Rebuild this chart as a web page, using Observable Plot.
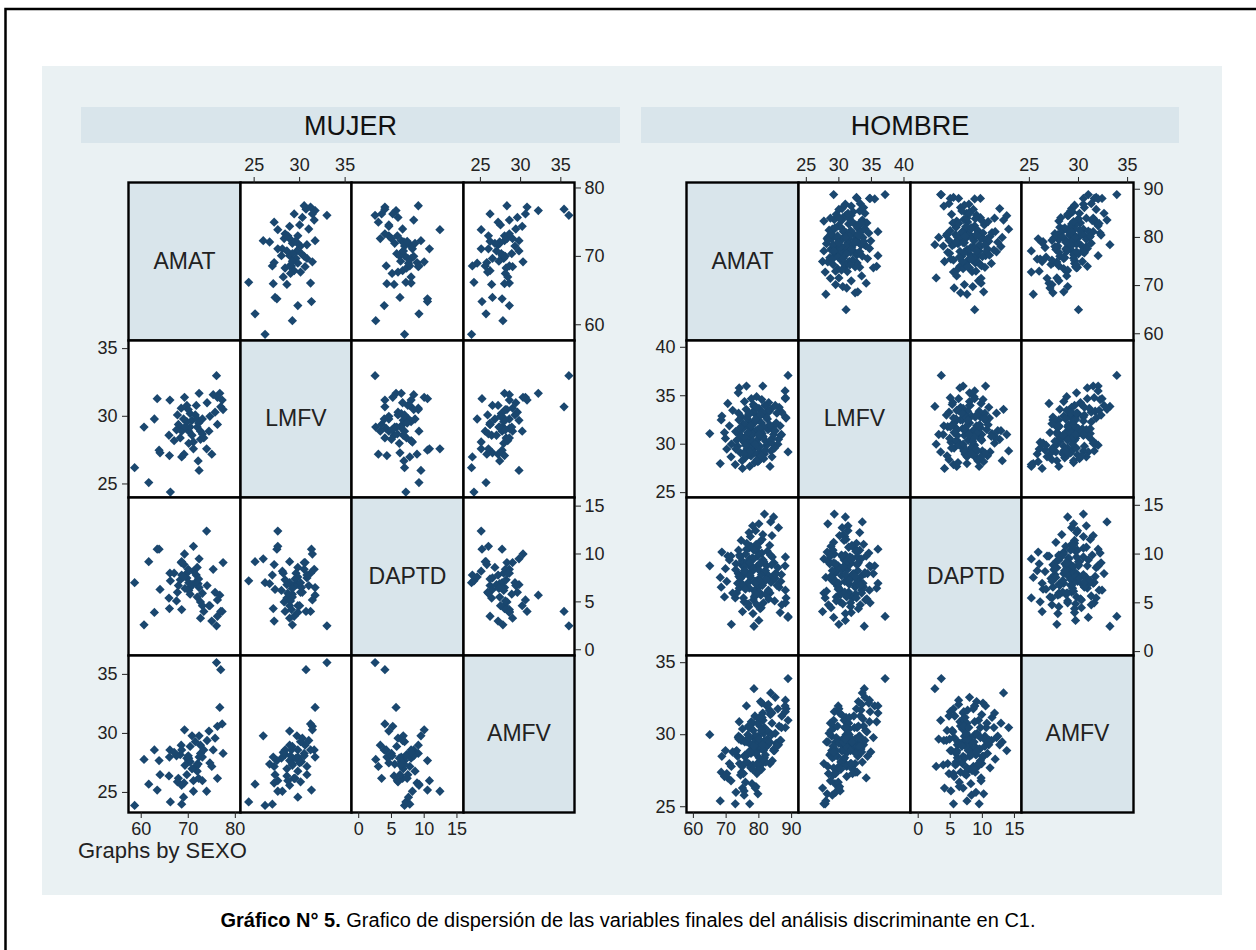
<!DOCTYPE html>
<html>
<head>
<meta charset="utf-8">
<script src="https://cdn.jsdelivr.net/npm/d3@7"></script>
<script src="https://cdn.jsdelivr.net/npm/@observablehq/plot@0.6"></script>
<style>
  html, body { margin: 0; padding: 0; background: #ffffff; }
  #page { position: relative; width: 1256px; height: 950px; overflow: hidden; background: #ffffff; font-family: "Liberation Sans", Arial, sans-serif; }
  #page svg { position: absolute; }
</style>
</head>
<body>
<div id="page"></div>
<script>
// ---------------- DATA ----------------
const variables = ["AMAT", "LMFV", "DAPTD", "AMFV"];
const groupTitles = ["MUJER", "HOMBRE"];

// observations: [AMAT, LMFV, DAPTD, AMFV]
const mujerObs = [
  [76.0,33.0,2.5,36.0],[76.7,31.7,5.7,32.2],[77.2,31.2,4.0,30.8],[75.3,31.6,8.4,28.6],
  [72.3,31.7,6.5,28.0],[69.2,31.4,10.0,30.3],[66.1,31.2,8.0,28.6],[63.4,31.3,10.5,25.2],
  [62.8,29.8,3.9,28.6],[60.6,29.2,2.6,27.8],[58.6,26.2,7.0,23.9],[61.6,25.1,9.2,25.7],
  [66.2,24.4,7.2,24.2],[68.5,30.6,9.1,29.0],[69.7,30.8,7.5,26.5],[71.7,30.8,7.8,27.2],
  [70.8,29.7,6.8,29.8],[69.7,29.6,8.0,27.9],[67.9,29.4,6.7,26.2],[68.6,29.1,4.2,28.6],
  [70.1,28.9,7.0,27.7],[71.9,29.2,5.5,27.4],[73.0,29.8,4.6,28.0],[72.6,28.9,3.3,29.0],
  [74.4,28.9,4.6,30.2],[76.2,29.4,3.5,26.2],[75.7,30.3,6.0,29.6],[76.9,30.7,4.0,35.4],
  [77.4,30.5,9.1,28.3],[65.9,28.6,5.4,26.4],[68.3,28.4,7.3,28.2],[70.1,28.0,6.2,27.9],
  [71.1,28.1,8.2,25.1],[72.6,28.3,5.0,28.3],[73.9,27.6,12.4,25.1],[63.8,27.5,10.5,27.7],
  [64.0,27.3,6.3,26.5],[66.0,27.1,4.3,28.0],[68.6,27.0,7.8,24.0],[69.1,27.2,8.9,25.8],
  [72.1,26.7,6.9,27.4],[72.3,26.0,9.5,29.8],[67.7,30.1,6.0,25.9],[69.0,29.8,7.6,24.6],
  [70.4,30.2,6.5,27.6],[71.5,30.1,7.0,29.3],[71.9,29.8,8.6,26.8],[70.4,29.2,5.8,28.9],
  [68.6,28.9,9.2,25.6],[70.8,28.6,6.8,27.0],[67.5,29.0,5.1,28.1],[69.3,29.2,6.4,27.3],
  [72.2,29.5,7.4,26.2],[73.3,28.4,4.0,28.6],[76.2,31.4,5.2,30.6],[71.1,27.6,10.8,26.0],
  [74.6,30.0,4.6,27.5],[70.0,30.5,8.4,28.1],[73.0,28.7,5.9,26.0],[67.0,28.2,8.0,28.4],
  [74.0,31.0,6.7,29.4],[75.0,27.2,3.0,27.2]
];

const hombreObs = [
  [65.0,31.1,8.8,30.0],[88.9,37.1,3.6,33.9],[78.5,33.9,2.6,33.2],[83.6,33.6,13.3,32.9],
  [88.1,34.7,6.3,32.4],[81.7,29.3,14.1,30.5],[78.1,31.4,12.9,30.8],[80.0,28.3,13.1,29.5],
  [71.6,30.0,2.8,27.8],[88.9,29.2,3.5,31.0],[88.1,32.8,9.7,30.5],[88.1,34.8,5.0,31.6],
  [81.2,36.0,7.0,31.5],[74.0,35.8,6.5,30.9],[73.7,35.3,8.0,29.8],[72.8,27.9,5.5,25.2],
  [77.2,27.7,9.5,25.2],[83.4,27.7,6.0,28.0],[68.2,28.0,7.6,25.4],[79.7,28.2,10.2,25.9],
  [68.5,32.5,6.6,27.4],[68.7,32.9,10.2,28.5],[69.8,30.6,8.5,28.9],[76.2,36.0,10.5,32.0],
  [86.0,30.5,12.7,29.3],[84.5,31.0,13.8,28.9],[75.0,27.5,4.1,26.3],[70.5,34.2,9.8,27.0],
  [87.0,33.3,4.8,31.3],[86.5,31.9,4.0,29.6],
  [75.2,30.4,7.8,29.6],[77.8,31.2,8.6,27.8],[79.5,32.5,6.9,28.0],[81.3,30.8,9.4,31.0],
  [76.4,29.5,8.1,29.5],[78.9,33.1,7.2,29.9],[80.6,31.7,5.8,27.9],[82.4,29.9,8.8,32.0],
  [74.1,31.0,9.9,28.0],[77.0,32.4,10.6,30.5],[79.1,30.1,6.4,26.4],[83.2,33.4,7.7,31.7],
  [75.8,28.6,9.0,28.6],[80.2,29.2,11.2,27.7],[78.3,34.1,5.3,30.3],[81.9,32.9,8.3,29.1],
  [73.5,29.8,7.0,28.5],[76.9,31.8,4.6,28.0],[84.1,30.6,9.7,28.2],[79.8,28.9,7.4,29.9],
  [77.4,30.9,11.8,30.5],[82.8,31.5,6.1,29.3],[74.7,32.8,8.9,27.4],[80.9,34.6,10.1,32.2],
  [78.6,29.6,5.6,29.8],[85.3,32.2,8.0,29.4],[76.1,33.6,6.8,28.1],[81.5,28.5,9.2,30.1],
  [79.0,31.4,12.4,29.9],[83.7,29.3,7.1,31.6],[75.5,30.2,5.1,26.1],[78.0,32.0,9.6,29.0],
  [80.4,33.0,4.4,29.6],[72.9,31.3,8.4,28.8],[86.2,33.8,6.6,30.6],[77.6,28.8,10.8,28.7],
  [82.1,30.3,5.9,28.1],[74.4,29.1,7.5,27.2],[79.3,34.9,8.7,28.8],[81.0,31.1,11.5,31.2],
  [76.7,30.6,4.9,29.7],[84.6,31.9,9.1,29.0],[78.7,28.1,6.2,29.5],[80.8,32.2,7.9,27.6],
  [73.8,33.2,10.4,29.9],[77.9,29.4,8.2,26.6],[83.0,34.3,5.4,30.2],[75.0,31.6,6.9,30.4],
  [79.7,30.5,9.8,28.0],[81.7,29.0,7.3,28.4],[76.3,32.7,11.1,29.6],[85.8,30.0,8.6,31.8],
  [78.2,31.0,3.9,27.9],[80.0,33.7,7.0,31.1],[74.9,28.3,9.3,27.8],[82.6,32.6,10.3,29.7],
  [77.1,30.0,6.5,29.4],[79.9,29.7,8.4,27.5],[84.0,28.7,7.6,30.8],[75.6,34.4,8.0,28.5],
  [78.8,32.3,5.7,31.3],[81.2,30.7,12.0,28.3],[73.2,30.4,6.0,28.9],[80.5,31.3,9.0,29.1],
  [76.0,29.3,10.0,28.5],[82.9,33.5,6.3,32.1],[77.5,31.9,7.6,27.7],[79.4,28.4,4.8,27.3],
  [83.9,31.6,8.9,30.0],[74.6,30.8,11.4,29.6],[86.7,30.9,7.2,29.6],[78.4,33.4,9.5,29.0],
  [80.3,29.8,6.7,30.6],[75.3,32.1,5.5,27.3],[81.8,34.0,8.1,29.6],[77.3,28.9,7.8,28.9],
  [79.6,31.5,10.7,30.8],[84.8,29.6,5.2,28.9],[76.6,31.2,9.2,30.0],[82.2,32.8,7.4,29.2],
  [78.1,30.3,8.5,27.6],[80.7,28.8,4.5,30.3],[73.9,32.5,7.7,29.7],[79.2,33.8,11.0,29.3],
  [83.5,30.4,9.9,31.4],[75.9,29.9,6.4,26.7],[81.4,31.8,5.0,28.9],[77.7,34.7,8.8,30.9],
  [85.0,31.4,7.5,30.1],[78.5,29.1,10.4,29.2],[80.1,30.9,6.1,28.4],[74.3,31.7,9.7,29.8],
  [82.0,29.4,8.3,28.6],[76.8,33.0,7.1,30.6],[79.0,32.6,5.9,28.7],[83.3,32.0,10.9,29.5],
  [75.7,30.7,8.7,29.5],[81.1,33.3,6.8,29.3],[77.2,29.2,9.1,28.8],[80.2,31.6,7.3,31.2],
  [88.3,32.7,5.5,31.8],[88.0,35.5,8.8,32.0],[86.9,31.0,7.9,30.5],[85.5,33.2,6.8,29.2],
  [71.0,31.9,9.4,28.0],[70.2,29.5,7.2,27.3],[72.0,33.5,6.0,28.8],[71.5,28.7,9.8,26.8],
  [69.5,31.2,5.6,27.1],[80.0,31.0,3.2,29.7],[77.0,33.2,12.2,29.8],[84.0,30.1,11.9,31.5],
  [75.5,29.0,8.3,25.8],[78.9,30.0,7.0,26.3],[73.0,29.5,9.0,26.0],[85.0,34.0,8.0,32.6],
  [80.5,33.0,9.1,32.3]
];

// axis ticks per variable
const mujerTicksX = [[60,70,80],[25,30,35],[0,5,10,15],[25,30,35]];
const mujerTicksY = [[60,70,80],[25,30,35],[0,5,10,15],[25,30,35]];
const hombreTicksX = [[60,70,80,90],[25,30,35,40],[0,5,10,15],[25,30,35]];
const hombreTicksY = [[60,70,80,90],[25,30,35,40],[0,5,10,15],[25,30,35]];

// scale domains per variable (horizontal use / vertical use)
const mujerDomX = [[57.3,81.1],[23.5,35.7],[-1.1,16.0],[22.9,36.7]];
const mujerDomY = [[57.7,80.8],[24.0,35.6],[-0.6,15.9],[23.3,36.6]];
const hombreDomX = [[57.9,92.1],[23.8,41.0],[-1.2,16.1],[24.2,35.6]];
const hombreDomY = [[58.6,91.4],[24.5,40.7],[-0.4,15.8],[24.6,35.5]];

const captionBold = "Gráfico N° 5.";
const captionText = " Grafico de dispersión de las variables finales del análisis discriminante en C1.";
const byNote = "Graphs by SEXO";

// ---------------- STYLE / LAYOUT ----------------
const FONT = "'Liberation Sans', Arial, Helvetica, sans-serif";
const NAVY = "#1a476f";
const DIAG = "#d9e5eb";
const PANEL = "#eaf1f3";
const page = document.getElementById("page");

// decorations (background panel, strips, notes, caption, border)
const deco = d3.create("svg").attr("width", 1256).attr("height", 950)
  .style("left", "0px").style("top", "0px");
deco.append("rect").attr("x", 42).attr("y", 66).attr("width", 1180).attr("height", 829).attr("fill", PANEL);
deco.append("path").attr("d", "M5.5,950 V9 H1256").attr("fill", "none").attr("stroke", "#000").attr("stroke-width", 2.5);

const panels = [
  {title: groupTitles[0], obs: mujerObs, tx: mujerTicksX, ty: mujerTicksY, dx: mujerDomX, dy: mujerDomY, x0: 128, W: 111.5, stripX: 81, stripW: 539},
  {title: groupTitles[1], obs: hombreObs, tx: hombreTicksX, ty: hombreTicksY, dx: hombreDomX, dy: hombreDomY, x0: 686, W: 111.75, stripX: 641, stripW: 538}
];
const Y0 = 182, H = 157.5;

for (const p of panels) {
  deco.append("rect").attr("x", p.stripX).attr("y", 107).attr("width", p.stripW).attr("height", 36).attr("fill", DIAG);
  deco.append("text").attr("x", p.stripX + p.stripW / 2).attr("y", 134.5)
    .attr("text-anchor", "middle").attr("font-family", FONT).attr("font-size", 27).attr("fill", "#111")
    .text(p.title);
}
deco.append("text").attr("x", 78).attr("y", 858).attr("font-family", FONT).attr("font-size", 22).attr("fill", "#222").text(byNote);
const cap = deco.append("text").attr("x", 628).attr("y", 927).attr("text-anchor", "middle")
  .attr("font-family", FONT).attr("font-size", 20).attr("fill", "#000");
cap.append("tspan").attr("font-weight", "bold").text(captionBold);
cap.append("tspan").text(captionText);
page.appendChild(deco.node());

// diamond marker
const diamond = {
  draw(ctx, size) {
    const h = Math.sqrt(size / 2);
    ctx.moveTo(0, -h); ctx.lineTo(h, 0); ctx.lineTo(0, h); ctx.lineTo(-h, 0); ctx.closePath();
  }
};

const AX = {tickSize: 6, fontSize: 18, stroke: "#222"};

for (const p of panels) {
  for (let i = 0; i < 4; i++) {       // row -> y variable
    for (let j = 0; j < 4; j++) {     // column -> x variable
      const left = Math.round(p.x0 + j * p.W), right = Math.round(p.x0 + (j + 1) * p.W);
      const top = Math.round(Y0 + i * H), bottom = Math.round(Y0 + (i + 1) * H);
      const topAxis = i === 0 && j % 2 === 1;
      const bottomAxis = i === 3 && j % 2 === 0;
      const leftAxis = j === 0 && i % 2 === 1;
      const rightAxis = j === 3 && i % 2 === 0;
      const mt = topAxis ? 40 : 0, mb = bottomAxis ? 40 : 0, ml = leftAxis ? 50 : 0, mr = rightAxis ? 50 : 0;
      const marks = [];
      if (i === j) {
        marks.push(Plot.frame({fill: DIAG}));
        marks.push(Plot.text([variables[i]], {text: d => d, frameAnchor: "middle", fontSize: 23, fill: "#222"}));
      } else {
        marks.push(Plot.frame({fill: "white"}));
        marks.push(Plot.dot(p.obs, {x: d => d[j], y: d => d[i], r: 3.7, symbol: diamond, fill: NAVY}));
      }
      marks.push(Plot.frame({stroke: "#000", strokeWidth: 2.4}));
      if (topAxis) marks.push(Plot.axisX({...AX, anchor: "top", ticks: p.tx[j], tickFormat: d => d, tickPadding: 6}));
      if (bottomAxis) marks.push(Plot.axisX({...AX, anchor: "bottom", ticks: p.tx[j], tickFormat: d => d, tickPadding: 4}));
      if (leftAxis) marks.push(Plot.axisY({...AX, anchor: "left", ticks: p.ty[i], tickFormat: d => d, tickPadding: 5}));
      if (rightAxis) marks.push(Plot.axisY({...AX, anchor: "right", ticks: p.ty[i], tickFormat: d => d, tickPadding: 4}));
      const svg = Plot.plot({
        width: right - left + ml + mr,
        height: bottom - top + mt + mb,
        marginTop: mt, marginBottom: mb, marginLeft: ml, marginRight: mr,
        x: {domain: p.dx[j], axis: null},
        y: {domain: p.dy[i], axis: null},
        style: {background: "transparent", overflow: "visible", fontFamily: FONT, fontSize: "18px", color: "#222", maxWidth: "none"},
        marks
      });
      svg.style.left = (left - ml) + "px";
      svg.style.top = (top - mt) + "px";
      page.appendChild(svg);
    }
  }
}
</script>
</body>
</html>
